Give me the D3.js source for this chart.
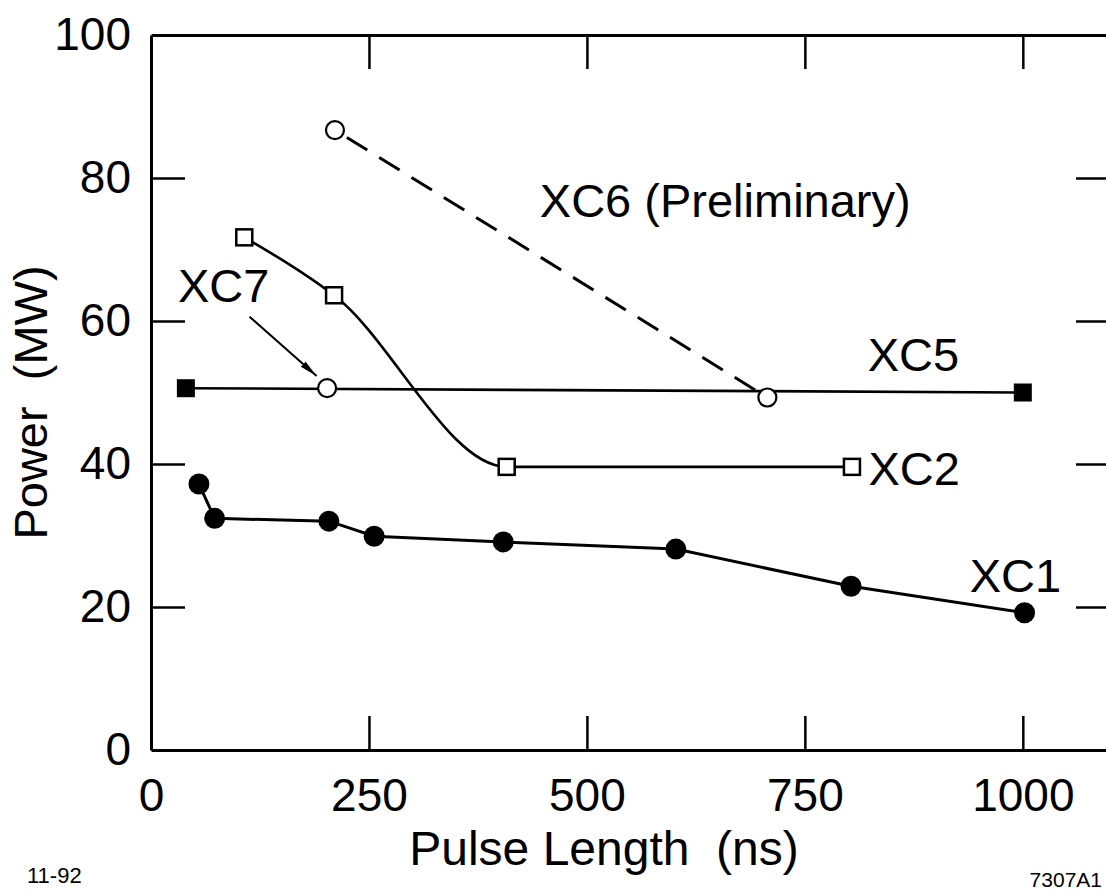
<!DOCTYPE html>
<html>
<head>
<meta charset="utf-8">
<script src="https://cdn.jsdelivr.net/npm/d3@7"></script>
<style>
  html, body { margin: 0; padding: 0; background: #fff; }
  svg { display: block; }
  text { white-space: pre; }
</style>
</head>
<body>
<script>
// ---- Data ----
const xTickValues = [0, 250, 500, 750, 1000];
const yTickValues = [0, 20, 40, 60, 80, 100];
const xInnerTicks = [250, 500, 750, 1000];
const yInnerTicks = [20, 40, 60, 80];

const xc1X = [55, 73, 204, 256, 404, 602, 803, 1002];
const xc1Y = [37.2, 32.4, 32.0, 29.9, 29.1, 28.1, 22.9, 19.2];
const xc2X = [107, 210, 408, 804];
const xc2Y = [71.7, 63.6, 39.6, 39.6];
const xc5X = [40, 1000];
const xc5Y = [50.6, 50.0];
const xc6X = [211, 707];
const xc6Y = [86.7, 49.3];
const xc7X = [202];
const xc7Y = [50.6];

const seriesNames = ["XC1", "XC2", "XC5", "XC6 (Preliminary)", "XC7"];
const xTitle = "Pulse Length\u00A0\u00A0(ns)";
const yTitle = "Power\u00A0\u00A0(MW)";
const footLeft = "11-92";
const footRight = "7307A1";

// ---- Drawing ----
const W = 1106, H = 896;
const FONT = "'Liberation Sans', Arial, Helvetica, sans-serif";
const svg = d3.select("body").append("svg").attr("width", W).attr("height", H);
svg.append("rect").attr("width", W).attr("height", H).attr("fill", "#fff");

const x = d3.scaleLinear().domain([0, 1100]).range([151, 1110]);
const y = d3.scaleLinear().domain([0, 100]).range([750, 35]);

const zip = (xs, ys) => xs.map((v, i) => [v, ys[i]]);

function styleAxis(g, size) {
  g.attr("font-family", FONT).attr("font-size", size);
  g.select(".domain").attr("stroke", "#000").attr("stroke-width", 3);
  g.selectAll(".tick line").attr("stroke", "#000").attr("stroke-width", 2.5);
  g.selectAll(".tick text").attr("fill", "#000");
}

// bottom axis
const gB = svg.append("g").attr("transform", `translate(0,${y(0)})`)
  .call(d3.axisBottom(x).tickValues(xTickValues).tickFormat(d3.format("d"))
    .tickSizeInner(-34).tickSizeOuter(0).tickPadding(28));
gB.selectAll(".tick").filter(d => !xInnerTicks.includes(d)).select("line").remove();
styleAxis(gB, 46);

// left axis
const gL = svg.append("g").attr("transform", `translate(${x(0)},0)`)
  .call(d3.axisLeft(y).tickValues(yTickValues).tickFormat(d3.format("d"))
    .tickSizeInner(-34).tickSizeOuter(0).tickPadding(20));
gL.selectAll(".tick").filter(d => !yInnerTicks.includes(d)).select("line").remove();
styleAxis(gL, 46);

// top axis (ticks only)
const gT = svg.append("g").attr("transform", `translate(0,${y(100)})`)
  .call(d3.axisTop(x).tickValues(xInnerTicks).tickFormat(() => "")
    .tickSizeInner(-34).tickSizeOuter(0));
styleAxis(gT, 46);

// right axis (ticks only)
const gR = svg.append("g").attr("transform", `translate(${x(1100)},0)`)
  .call(d3.axisRight(y).tickValues(yInnerTicks).tickFormat(() => "")
    .tickSizeInner(-34).tickSizeOuter(0));
styleAxis(gR, 46);

// axis titles
svg.append("text")
  .attr("transform", `translate(47,${(y(0) + y(100)) / 2 + 10}) rotate(-90)`)
  .attr("text-anchor", "middle").attr("font-family", FONT).attr("font-size", 47)
  .text(yTitle);
svg.append("text")
  .attr("x", 604).attr("y", 865)
  .attr("text-anchor", "middle").attr("font-family", FONT).attr("font-size", 48)
  .text(xTitle);

// footers
svg.append("text").attr("x", 27).attr("y", 883)
  .attr("font-family", FONT).attr("font-size", 22).text(footLeft);
svg.append("text").attr("x", 1102).attr("y", 887).attr("text-anchor", "end")
  .attr("font-family", FONT).attr("font-size", 21).text(footRight);

// lines
const lin = d3.line().x(d => x(d[0])).y(d => y(d[1]));
const smooth = d3.line().x(d => x(d[0])).y(d => y(d[1])).curve(d3.curveMonotoneX);

const plot = svg.append("g").attr("fill", "none").attr("stroke", "#000");
plot.append("path").attr("d", lin(zip(xc5X, xc5Y))).attr("stroke-width", 2.6);
plot.append("path").attr("d", smooth(zip(xc2X, xc2Y))).attr("stroke-width", 2.6);
plot.append("path").attr("d", lin(zip(xc1X, xc1Y))).attr("stroke-width", 3);
plot.append("path").attr("d", lin(zip(xc6X, xc6Y))).attr("stroke-width", 3)
  .attr("stroke-dasharray", "24,14").attr("stroke-dashoffset", -14);

// arrow for XC7
svg.append("defs").append("marker")
  .attr("id", "arrowhead").attr("markerUnits", "userSpaceOnUse")
  .attr("markerWidth", 20).attr("markerHeight", 10)
  .attr("refX", 18).attr("refY", 5).attr("orient", "auto")
  .append("path").attr("d", "M0,1.5 L18,5 L0,8.5 Z").attr("fill", "#000");
svg.append("line")
  .attr("x1", x(113)).attr("y1", y(60.6))
  .attr("x2", x(190)).attr("y2", y(52.3))
  .attr("stroke", "#000").attr("stroke-width", 2)
  .attr("marker-end", "url(#arrowhead)");

// markers
const mk = svg.append("g");
mk.selectAll("circle.xc1").data(zip(xc1X, xc1Y)).join("circle")
  .attr("cx", d => x(d[0])).attr("cy", d => y(d[1])).attr("r", 10.5).attr("fill", "#000");
mk.selectAll("rect.xc2").data(zip(xc2X, xc2Y)).join("rect")
  .attr("x", d => x(d[0]) - 8).attr("y", d => y(d[1]) - 8).attr("width", 16).attr("height", 16)
  .attr("fill", "#fff").attr("stroke", "#000").attr("stroke-width", 2.5);
mk.selectAll("rect.xc5").data(zip(xc5X, xc5Y)).join("rect")
  .attr("x", d => x(d[0]) - 9).attr("y", d => y(d[1]) - 9).attr("width", 18).attr("height", 18)
  .attr("fill", "#000");
mk.selectAll("circle.xc6").data(zip(xc6X, xc6Y).concat(zip(xc7X, xc7Y))).join("circle")
  .attr("cx", d => x(d[0])).attr("cy", d => y(d[1])).attr("r", 9)
  .attr("fill", "#fff").attr("stroke", "#000").attr("stroke-width", 2.2);

// series labels
const labelPos = [[939, 22.1], [823, 37.1], [822, 53.0], [446, 74.6], [31, 62.7]];
svg.append("g").attr("font-family", FONT).attr("font-size", 47)
  .selectAll("text").data(seriesNames).join("text")
  .attr("x", (d, i) => x(labelPos[i][0])).attr("y", (d, i) => y(labelPos[i][1]))
  .text(d => d);
</script>
</body>
</html>
